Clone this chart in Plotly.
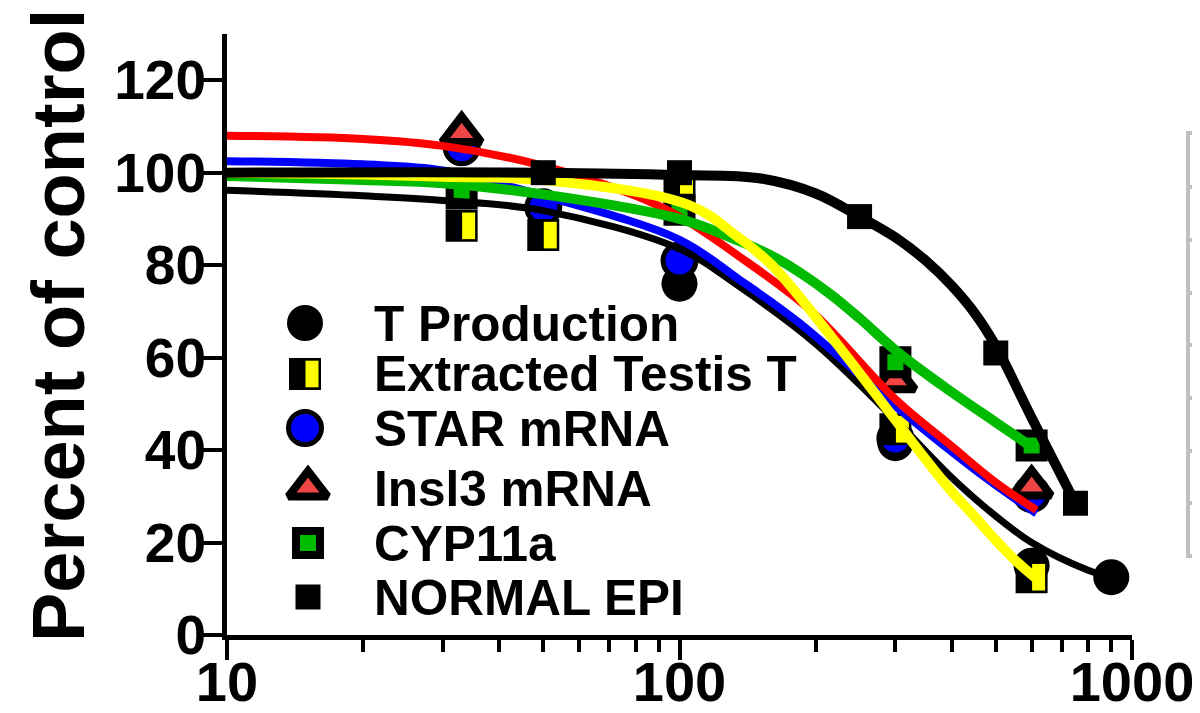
import plotly.graph_objects as go

# ---------------- data ----------------
# measured points
t_prod_x = [33, 50, 100, 300, 600, 900]
t_prod_y = [105.5, 92.5, 76, 41.5, 15, 12.5]

extr_x = [33, 50, 100, 300, 600]
extr_y = [88.5, 86.5, 96.5, 44.5, 12.5]

star_x = [33, 50, 100, 300, 600]
star_y = [105.5, 92.5, 81, 42.5, 30.5]

insl3_x = [33, 300, 600]
insl3_y = [108.5, 55, 32]

cyp_x = [33, 100, 300, 600]
cyp_y = [95.5, 92, 59, 41]

epi_x = [50, 100, 250, 500, 750]
epi_y = [100, 100, 90.5, 61, 28.5]

# fitted curves
fit_t_x = [10, 20, 30, 50, 100, 135, 200, 300, 400, 475, 600, 800, 900]
fit_t_y = [96.2, 95.0, 94.0, 91.8, 83.5, 75.5, 63.0, 46.5, 34.0, 27.5, 20.0, 14.0, 12.5]

fit_star_x = [10, 20, 30, 50, 100, 135, 184, 300, 475, 615]
fit_star_y = [102.5, 101.8, 100.5, 95.0, 85.5, 77.0, 67.5, 49.5, 34.0, 26.3]

fit_insl3_x = [10, 20, 30, 50, 80, 100, 135, 196, 300, 400, 500, 615]
fit_insl3_y = [108.0, 107.3, 105.8, 101.5, 95.0, 90.5, 82.0, 70.0, 51.0, 40.8, 33.0, 27.0]

fit_cyp_x = [10, 20, 30, 50, 100, 135, 160, 184, 217, 250, 305, 400, 500, 600]
fit_cyp_y = [99.3, 98.4, 97.7, 95.3, 90.0, 85.3, 82.0, 78.5, 73.5, 68.5, 61.0, 52.5, 46.0, 40.7]

fit_extr_x = [10, 20, 30, 50, 105, 135, 160, 217, 300, 350, 400, 450, 500, 550, 613]
fit_extr_y = [100.0, 99.6, 99.1, 98.4, 93.0, 86.0, 80.0, 64.4, 46.5, 38.0, 31.0, 25.5, 20.5, 16.3, 12.3]

fit_epi_x = [10, 50, 100, 150, 200, 250, 300, 350, 400, 450, 500, 600, 750]
fit_epi_y = [100.0, 100.0, 99.5, 98.8, 95.5, 90.5, 86.0, 81.0, 75.5, 69.5, 62.5, 47.0, 28.5]

legend_names = ["T Production", "Extracted Testis T", "STAR mRNA",
                "Insl3 mRNA", "CYP11a", "NORMAL EPI"]
table_rows = ["IC50", "", "T Production", "Extracted Testis T", "STAR mRNA",
              "insl3 mRNA", "CYP11a", "NORMAL EPI"]

y_ticks = [0, 20, 40, 60, 80, 100, 120]
x_ticks = [10, 100, 1000]
x_minor = [20, 30, 40, 50, 60, 70, 80, 90, 200, 300, 400, 500, 600, 700, 800, 900]

# ---------------- layout geometry (screen pixels) ----------------
W, H = 1200, 713
OFF = 8                      # page body margin
PLOT_L, PLOT_B = 227, 635    # wanted screen position of plot-area corner
PW, PH = 905, 601
ML = PLOT_L - OFF
MB = H - PLOT_B + OFF
MT = H - MB - PH
MR = W - ML - PW
PX_PER_DECADE = PW / 2.0


def pxx(px):
    return (px - OFF - ML) / PW


def pxy(py):
    return (PLOT_B - py) / PH


FONT = "Liberation Sans, Arial, sans-serif"
RED_FILL = "#f04545"
YELLOW = "#ffff00"
GREEN = "#00bb00"
BLUE = "#0000ff"
bar_shift = 10 ** (7 / PX_PER_DECADE)

fig = go.Figure()


def markers(x, y, symbol, size, color, lw=0, lc="black", axis=("x", "y")):
    fig.add_trace(go.Scatter(
        x=x, y=y, mode="markers", xaxis=axis[0], yaxis=axis[1],
        showlegend=False, hoverinfo="skip", cliponaxis=False,
        marker=dict(symbol=symbol, size=size, color=color,
                    line=dict(width=lw, color=lc))))


def curve(x, y, color, width):
    fig.add_trace(go.Scatter(
        x=x, y=y, mode="lines", showlegend=False, hoverinfo="skip",
        line=dict(color=color, width=width, shape="spline", smoothing=1.0)))


# markers (under the curves)
markers(t_prod_x, t_prod_y, "circle", 36, "black")
markers(star_x, star_y, "circle", 33, BLUE, 5)
markers(extr_x, extr_y, "square", 32, "black")
markers([v * bar_shift for v in extr_x], extr_y, "line-ns", 19, YELLOW, 13, YELLOW)
markers(insl3_x, insl3_y, "triangle-up", 34, RED_FILL, 8)
markers(cyp_x, cyp_y, "square", 24, GREEN, 8)

# curves
curve(fit_t_x, fit_t_y, "black", 7)
curve(fit_star_x, fit_star_y, BLUE, 8)
curve(fit_insl3_x, fit_insl3_y, "#ff0000", 8)
curve(fit_cyp_x, fit_cyp_y, GREEN, 10)
curve(fit_extr_x, fit_extr_y, YELLOW, 10)
curve(fit_epi_x, fit_epi_y, "black", 10)

markers(epi_x, epi_y, "square", 25, "black")

# ---------------- hand-built legend ----------------
leg_rows_py = [323, 374, 428, 488, 543, 597]
leg_sym_px = 305
leg_txt_px = 372
ax2 = ("x2", "y2")
ly = [pxy(v) for v in leg_rows_py]
sx = pxx(leg_sym_px)
markers([sx], [ly[0]], "circle", 36, "black", axis=ax2)
markers([sx], [ly[1]], "square", 32, "black", axis=ax2)
markers([sx + 7 / PW], [ly[1]], "line-ns", 19, YELLOW, 13, YELLOW, axis=ax2)
markers([sx], [ly[2]], "circle", 33, BLUE, 5, axis=ax2)
markers([pxx(308)], [ly[3]], "triangle-up", 34, RED_FILL, 8, axis=ax2)
markers([pxx(308)], [ly[4]], "square", 24, GREEN, 8, axis=ax2)
markers([pxx(308)], [ly[5]], "square", 25, "black", axis=ax2)

annotations = []
for name, yy in zip(legend_names, ly):
    annotations.append(dict(
        text=name, x=pxx(leg_txt_px), y=yy, xref="paper", yref="paper",
        xanchor="left", yanchor="middle", showarrow=False,
        font=dict(family=FONT, size=49.5, color="black", weight="bold")))

# y-axis title
annotations.append(dict(
    text="Percent of control", x=pxx(58), y=pxy(326), xref="paper", yref="paper",
    textangle=-90, showarrow=False, xanchor="center", yanchor="middle",
    font=dict(family=FONT, size=74, color="black", weight="bold")))

# ---------------- partial table on the right ----------------
row_edges = [133, 187, 240, 293, 345, 398, 451, 503, 556]
shapes = [dict(type="rect", xref="paper", yref="paper",
               x0=pxx(1188), x1=pxx(1300), y0=pxy(row_edges[-1]), y1=pxy(row_edges[0]),
               line=dict(color="#c0c0c0", width=4), fillcolor="rgba(0,0,0,0)")]
for e in row_edges[1:-1]:
    shapes.append(dict(type="line", xref="paper", yref="paper",
                       x0=pxx(1188), x1=pxx(1300), y0=pxy(e), y1=pxy(e),
                       line=dict(color="#c0c0c0", width=4)))
for i, txt in enumerate(table_rows):
    if not txt:
        continue
    yc = (row_edges[i] + row_edges[i + 1]) / 2
    annotations.append(dict(
        text=txt, x=pxx(1190), y=pxy(yc), xref="paper", yref="paper",
        xanchor="left", yanchor="middle", showarrow=False,
        font=dict(family=FONT, size=38, color="black")))

fig.update_layout(
    width=W, height=H,
    margin=dict(l=ML, r=MR, t=MT, b=MB, pad=0, autoexpand=False),
    paper_bgcolor="white", plot_bgcolor="white",
    showlegend=False,
    xaxis=dict(type="log", range=[1, 3], tickvals=x_ticks,
               ticktext=[str(v) for v in x_ticks], automargin=False,
               showgrid=False, zeroline=False, showline=True,
               linecolor="black", linewidth=5,
               ticks="outside", ticklen=20, tickwidth=4, tickcolor="black",
               ticklabelstandoff=-26,
               tickfont=dict(family=FONT, size=56, color="black", weight="bold"),
               minor=dict(tickvals=x_minor, ticks="outside", ticklen=12, tickwidth=4,
                          tickcolor="black", showgrid=False)),
    yaxis=dict(range=[0, 130], tickvals=y_ticks, automargin=False,
               showgrid=False, zeroline=False, showline=True,
               linecolor="black", linewidth=5,
               ticks="outside", ticklen=20, tickwidth=4, tickcolor="black",
               ticklabelstandoff=-15,
               tickfont=dict(family=FONT, size=55, color="black", weight="bold")),
    xaxis2=dict(overlaying="x", range=[0, 1], visible=False),
    yaxis2=dict(overlaying="y", range=[0, 1], visible=False),
    annotations=annotations,
    shapes=shapes,
)

fig.write_html("out.html")
